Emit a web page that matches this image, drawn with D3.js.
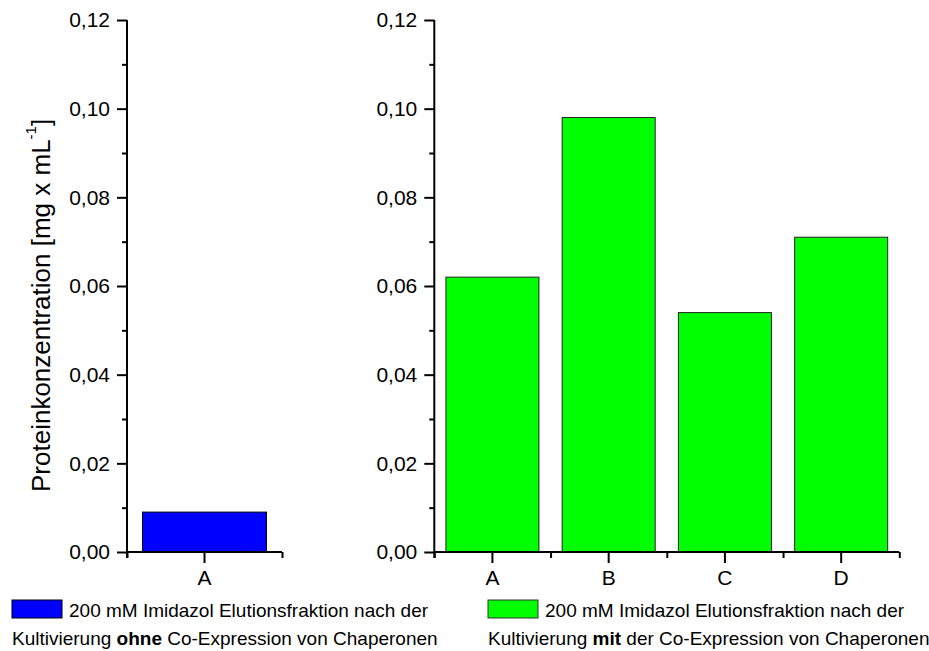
<!DOCTYPE html>
<html>
<head>
<meta charset="utf-8">
<script src="https://cdn.jsdelivr.net/npm/d3@7/dist/d3.min.js"></script>
<style>
  html, body { margin: 0; padding: 0; background: #fff; }
  svg { display: block; font-family: "Liberation Sans", Arial, Helvetica, sans-serif; }
  .axis text { fill: #000; font-size: 21px; font-family: "Liberation Sans", Arial, sans-serif; }
</style>
</head>
<body>
<svg id="chart" width="929" height="651"></svg>
<script>
// Protein concentration of the 200 mM imidazole elution fractions
const catsWithout = ["A"];
const valsWithout = [0.009];
const catsWith = ["A", "B", "C", "D"];
const valsWith = [0.062, 0.098, 0.054, 0.071];
const yMajorTicks = [0, 0.02, 0.04, 0.06, 0.08, 0.10, 0.12];
const yMinorTicks = [0.01, 0.03, 0.05, 0.07, 0.09, 0.11];
const yTitle = "Proteinkonzentration [mg x mL";
const legendLine1 = "200 mM Imidazol Elutionsfraktion nach der";

const svg = d3.select("#chart");
const fmt = d => d3.format(".2f")(d).replace(".", ",");

const y = d3.scaleLinear().domain([0, 0.12]).range([552, 20]);

// make axis lines solid black and 2px wide
function styleAxis(s) {
  s.selectAll("path, line").attr("stroke", "#000").attr("stroke-width", 2);
}

function panel(cats, vals, x0, x1, fill, stroke) {
  const g = svg.append("g");
  const x = d3.scaleBand().domain(cats).range([x0, x1])
    .paddingInner(0.2).paddingOuter(0.1);

  g.selectAll("rect.bar").data(cats).join("rect")
    .attr("class", "bar")
    .attr("x", d => x(d))
    .attr("width", x.bandwidth())
    .attr("y", (d, i) => y(vals[i]))
    .attr("height", (d, i) => y(0) - y(vals[i]))
    .attr("fill", fill)
    .attr("stroke", stroke)
    .attr("stroke-width", 1);

  // category boundary ticks
  const edges = d3.scaleLinear().domain([0, cats.length]).range([x0, x1]);
  g.append("g").attr("class", "axis")
    .attr("transform", `translate(0,${y(0)})`)
    .call(d3.axisBottom(edges).tickValues(d3.range(cats.length + 1))
      .tickSize(6).tickFormat(""))
    .call(s => s.select(".domain").remove())
    .call(styleAxis);

  // x axis with category labels
  g.append("g").attr("class", "axis")
    .attr("transform", `translate(0,${y(0)})`)
    .call(d3.axisBottom(x).tickSize(11).tickSizeOuter(0).tickPadding(7))
    .call(s => s.select(".domain").attr("d", `M${x0},0H${x1}`))
    .call(styleAxis);

  // minor y ticks
  g.append("g").attr("class", "axis")
    .attr("transform", `translate(${x0},0)`)
    .call(d3.axisLeft(y).tickValues(yMinorTicks).tickSize(5).tickFormat(""))
    .call(s => s.select(".domain").remove())
    .call(styleAxis);

  // major y ticks with labels
  g.append("g").attr("class", "axis")
    .attr("transform", `translate(${x0},0)`)
    .call(d3.axisLeft(y).tickValues(yMajorTicks).tickSize(10).tickSizeOuter(0)
      .tickPadding(7).tickFormat(fmt))
    .call(s => s.select(".domain").attr("d", `M0,${y(0.12)}V${y(0) + 6}`))
    .call(styleAxis);
  return g;
}

panel(catsWithout, valsWithout, 127, 282, "#0000ff", "#000");
panel(catsWith, valsWith, 434.3, 899.3, "#00ff00", "#222");

// y axis title
const title = svg.append("text")
  .attr("transform", "translate(50,492) rotate(-90)")
  .attr("font-size", 26)
  .attr("fill", "#000");
title.append("tspan").text(yTitle);
title.append("tspan").attr("font-size", 15).attr("dy", -14).text("-1");
title.append("tspan").attr("dy", 14).text("]");

// legends
function legend(x, fill, stroke, bold, after) {
  const g = svg.append("g").attr("font-size", 19).attr("fill", "#000");
  g.append("rect").attr("x", x).attr("y", 600).attr("width", 50).attr("height", 18)
    .attr("fill", fill).attr("stroke", stroke).attr("stroke-width", 1);
  g.append("text").attr("x", x + 57).attr("y", 617).text(legendLine1);
  const t = g.append("text").attr("x", x).attr("y", 645);
  t.append("tspan").text("Kultivierung ");
  t.append("tspan").attr("font-weight", "bold").text(bold);
  t.append("tspan").text(after);
}
legend(12, "#0000ff", "#000", "ohne", " Co-Expression von Chaperonen");
legend(488, "#00ff00", "#333", "mit", " der Co-Expression von Chaperonen");
</script>
</body>
</html>
